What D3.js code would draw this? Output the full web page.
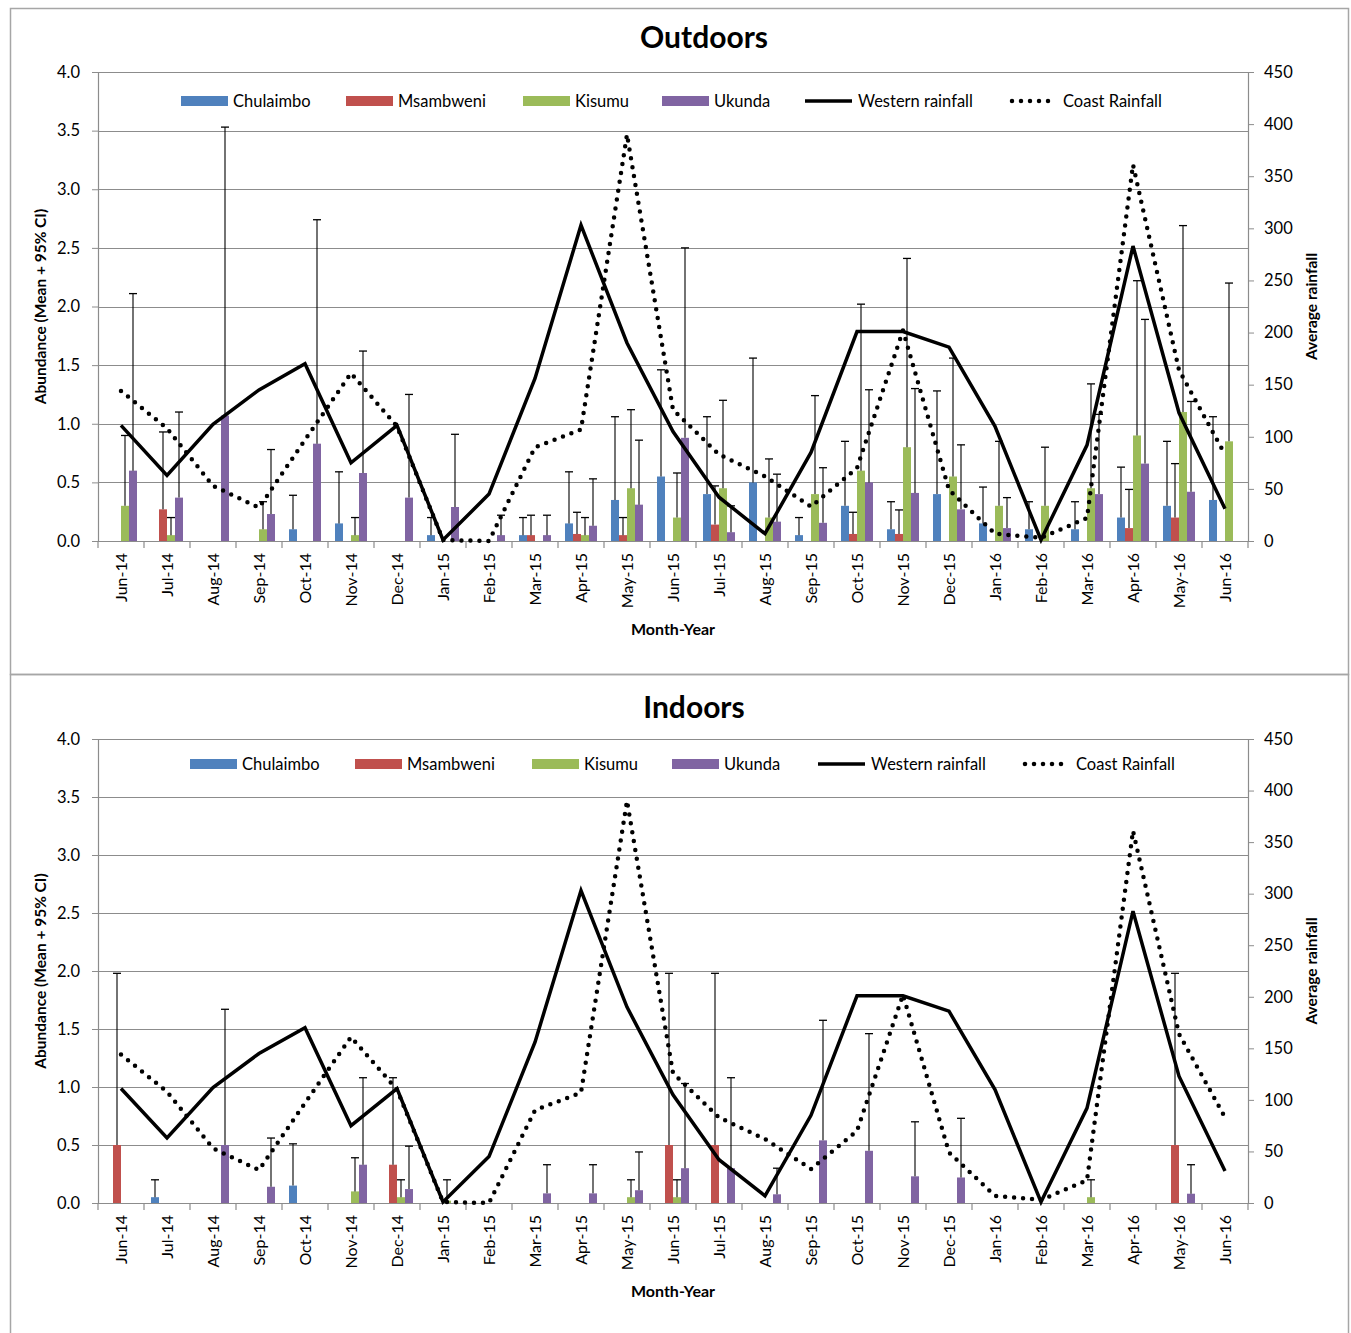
<!DOCTYPE html>
<html>
<head>
<meta charset="utf-8">
<script src="https://d3js.org/d3.v7.min.js"></script>
<style>
  body { margin: 0; background: #fff; }
  text { font-family: Lato, "Open Sans", sans-serif; fill: #000; }
</style>
</head>
<body>
<script>
var WIDTH = 1351,
    HEIGHT = 1333;

var months = ["Jun-14","Jul-14","Aug-14","Sep-14","Oct-14","Nov-14","Dec-14",
  "Jan-15","Feb-15","Mar-15","Apr-15","May-15","Jun-15","Jul-15","Aug-15","Sep-15",
  "Oct-15","Nov-15","Dec-15","Jan-16","Feb-16","Mar-16","Apr-16","May-16","Jun-16"];

var sites = ["Chulaimbo", "Msambweni", "Kisumu", "Ukunda"];
var siteColors = ["#4F81BD", "#C0504D", "#9BBB59", "#8064A2"];

// rainfall (right axis), same in both panels
var westernRain = [111,63,112,145,170,75,111,1,45,156,303,190,105,42,7,85,201,201,186,110,1,92,283,123,31];
var coastRain   = [144,108,53,32,97,161,110,1,0,90,107,390,126,83,62,33,70,202,49,7,3,22,361,164,83];

// Outdoors: mean and upper 95% CI, null = no bar
var outChulaimbo   = [null,null,null,null,0.10,0.15,null,0.05,null,0.05,0.15,0.35,0.55,0.40,0.50,0.05,0.30,0.10,0.40,0.15,0.10,0.10,0.20,0.30,0.35];
var outChulaimboCI = [null,null,null,null,0.39,0.59,null,0.20,null,0.20,0.59,1.06,1.46,1.06,1.56,0.20,0.85,0.335,1.28,0.46,0.335,0.335,0.63,0.85,1.06];
var outMsambweni   = [null,0.27,null,null,null,null,null,null,null,0.05,0.06,0.05,null,0.14,null,null,0.06,0.06,null,null,null,null,0.11,0.20,null];
var outMsambweniCI = [null,0.93,null,null,null,null,null,null,null,0.22,0.245,0.20,null,0.47,null,null,0.245,0.265,null,null,null,null,0.44,0.66,null];
var outKisumu      = [0.30,0.05,null,0.10,null,0.05,null,null,null,null,0.05,0.45,0.20,0.45,0.20,0.40,0.60,0.80,0.55,0.30,0.30,0.45,0.90,1.10,0.85];
var outKisumuCI    = [0.90,0.20,null,0.335,null,0.20,null,null,null,null,0.20,1.12,0.58,1.20,0.70,1.24,2.02,2.41,1.56,0.85,0.80,1.34,2.22,2.69,2.20];
var outUkunda      = [0.60,0.37,1.07,0.23,0.83,0.58,0.37,0.29,0.05,0.05,0.13,0.31,0.88,0.075,0.165,0.155,0.50,0.41,0.27,0.11,null,0.40,0.66,0.42,null];
var outUkundaCI    = [2.11,1.10,3.53,0.78,2.74,1.62,1.25,0.91,0.22,0.22,0.53,0.86,2.50,0.30,0.57,0.625,1.29,1.30,0.82,0.37,null,1.08,1.89,1.19,null];

// Indoors
var inChulaimbo    = [null,0.05,null,null,0.15,null,null,null,null,null,null,null,null,null,null,null,null,null,null,null,null,null,null,null,null];
var inChulaimboCI  = [null,0.20,null,null,0.51,null,null,null,null,null,null,null,null,null,null,null,null,null,null,null,null,null,null,null,null];
var inMsambweni    = [0.50,null,null,null,null,null,0.33,null,null,null,null,null,0.50,0.50,null,null,null,null,null,null,null,null,null,0.50,null];
var inMsambweniCI  = [1.98,null,null,null,null,null,1.08,null,null,null,null,null,1.98,1.98,null,null,null,null,null,null,null,null,null,1.98,null];
var inKisumu       = [null,null,null,null,null,0.10,0.05,0.02,null,null,null,0.05,0.05,null,null,null,null,null,null,null,null,0.05,null,null,null];
var inKisumuCI     = [null,null,null,null,null,0.39,0.20,0.20,null,null,null,0.20,0.20,null,null,null,null,null,null,null,null,0.20,null,null,null];
var inUkunda       = [null,null,0.50,0.14,null,0.33,0.12,null,null,0.083,0.083,0.11,0.30,0.30,0.075,0.54,0.45,0.23,0.22,null,null,null,null,0.08,null];
var inUkundaCI     = [null,null,1.67,0.56,null,1.08,0.49,null,null,0.33,0.33,0.44,1.03,1.08,0.30,1.575,1.46,0.70,0.73,null,null,null,null,0.33,null];

var leftTicks = [0,0.5,1,1.5,2,2.5,3,3.5,4];
var rightTicks = [0,50,100,150,200,250,300,350,400,450];

var svg = d3.select("body").append("svg")
    .attr("width", WIDTH)
    .attr("height", HEIGHT);

function drawPanel(p) {
  var g = svg.append("g");

  g.append("rect")
    .attr("x", 10.5).attr("y", p.boxTop + 0.5)
    .attr("width", 1338).attr("height", p.boxH)
    .style("fill", "none").style("stroke", "#a6a6a6").style("stroke-width", 1.5);

  var x = d3.scaleBand().domain(months).range([98, 1248]);
  var y = d3.scaleLinear().domain([0, 4]).range([p.bottom, p.top]);
  var yR = d3.scaleLinear().domain([0, 450]).range([p.bottom, p.top]);
  var bw = 8;

  // gridlines
  g.selectAll(".grid").data(leftTicks.slice(1)).enter().append("line")
    .attr("x1", 98).attr("x2", 1248)
    .attr("y1", function(d) { return Math.round(y(d)) + 0.5; })
    .attr("y2", function(d) { return Math.round(y(d)) + 0.5; })
    .style("stroke", "#8c8c8c").style("stroke-width", 1.2);

  // left axis
  var la = g.append("g").attr("transform", "translate(98,0)")
    .call(d3.axisLeft(y).tickValues(leftTicks).tickSize(6).tickPadding(12)
      .tickFormat(d3.format(".1f")));
  la.select(".domain").style("stroke", "#8c8c8c").style("stroke-width", 1.2);
  la.selectAll(".tick line").style("stroke", "#8c8c8c");
  la.selectAll("text").style("font-size", "16.5px").style("font-family", "Lato");

  // right axis
  var ra = g.append("g").attr("transform", "translate(1248,0)")
    .call(d3.axisRight(yR).tickValues(rightTicks).tickSize(6).tickPadding(10));
  ra.select(".domain").style("stroke", "#8c8c8c").style("stroke-width", 1.2);
  ra.selectAll(".tick line").style("stroke", "#8c8c8c");
  ra.selectAll("text").style("font-size", "16.5px").style("font-family", "Lato");

  // x axis: ticks between categories
  g.append("line").attr("x1", 98).attr("x2", 1248)
    .attr("y1", p.bottom + 0.5).attr("y2", p.bottom + 0.5)
    .style("stroke", "#8c8c8c").style("stroke-width", 1.2);
  g.selectAll(".xt").data(d3.range(months.length + 1)).enter().append("line")
    .attr("x1", function(i) { return 98 + i * x.step(); })
    .attr("x2", function(i) { return 98 + i * x.step(); })
    .attr("y1", p.bottom).attr("y2", p.bottom + 7)
    .style("stroke", "#8c8c8c").style("stroke-width", 1.2);
  g.selectAll(".xl").data(months).enter().append("text")
    .attr("transform", function(d) {
      return "translate(" + (x(d) + x.bandwidth() / 2 + 6) + "," + (p.bottom + 12) + ") rotate(-90)";
    })
    .attr("text-anchor", "end")
    .style("font-size", "16px")
    .text(function(d) { return d; });

  // bars and error bars
  p.series.forEach(function(s, si) {
    var pts = months.map(function(m, i) {
      return { m: m, v: s.mean[i], ci: s.ci[i] };
    }).filter(function(d) { return d.v != null; });
    var bx = function(d) { return x(d.m) + x.bandwidth() / 2 - 16 + si * bw; };

    g.selectAll(".bar" + si).data(pts).enter().append("rect")
      .attr("x", bx)
      .attr("y", function(d) { return y(d.v); })
      .attr("width", bw)
      .attr("height", function(d) { return p.bottom - y(d.v); })
      .style("fill", siteColors[si]);

    var eb = g.selectAll(".err" + si).data(pts).enter().append("g");
    eb.append("line")
      .attr("x1", function(d) { return bx(d) + bw / 2; })
      .attr("x2", function(d) { return bx(d) + bw / 2; })
      .attr("y1", function(d) { return y(d.v); })
      .attr("y2", function(d) { return y(d.ci); })
      .style("stroke", "#000").style("stroke-width", 1.1);
    eb.append("line")
      .attr("x1", function(d) { return bx(d) + bw / 2 - 4; })
      .attr("x2", function(d) { return bx(d) + bw / 2 + 4; })
      .attr("y1", function(d) { return y(d.ci); })
      .attr("y2", function(d) { return y(d.ci); })
      .style("stroke", "#000").style("stroke-width", 1.3);
  });

  // rainfall lines
  var line = d3.line()
    .x(function(d, i) { return x(months[i]) + x.bandwidth() / 2; })
    .y(function(d) { return yR(d); });

  g.append("path").datum(westernRain).attr("d", line)
    .style("fill", "none").style("stroke", "#000").style("stroke-width", 3.5)
    .style("stroke-linejoin", "miter");
  g.append("path").datum(coastRain).attr("d", line)
    .style("fill", "none").style("stroke", "#000").style("stroke-width", 4.5)
    .style("stroke-linecap", "round").style("stroke-dasharray", "0,9");

  // title
  g.append("text").attr("x", p.titleX).attr("y", p.titleY)
    .attr("text-anchor", "middle")
    .style("font-size", "30px").style("font-weight", "bold")
    .text(p.title);

  // axis titles
  g.append("text")
    .attr("transform", "translate(46," + ((p.top + p.bottom) / 2) + ") rotate(-90)")
    .attr("text-anchor", "middle")
    .style("font-size", "15.5px").style("font-weight", "bold")
    .text("Abundance (Mean + 95% CI)");
  g.append("text")
    .attr("transform", "translate(1317," + ((p.top + p.bottom) / 2) + ") rotate(-90)")
    .attr("text-anchor", "middle")
    .style("font-size", "15.5px").style("font-weight", "bold")
    .text("Average rainfall");
  g.append("text").attr("x", 673).attr("y", p.bottom + 94)
    .attr("text-anchor", "middle")
    .style("font-size", "16px").style("font-weight", "bold")
    .text("Month-Year");

  // legend
  var lg = g.append("g").attr("transform", "translate(0," + p.legendY + ")");
  sites.forEach(function(s, i) {
    lg.append("rect").attr("x", p.legendX[i]).attr("y", -5)
      .attr("width", 47).attr("height", 10).style("fill", siteColors[i]);
    lg.append("text").attr("x", p.legendX[i] + 52).attr("y", 6)
      .style("font-size", "16.5px").text(s);
  });
  lg.append("line").attr("x1", p.legendX[4]).attr("x2", p.legendX[4] + 47)
    .attr("y1", 0).attr("y2", 0)
    .style("stroke", "#000").style("stroke-width", 3.5);
  lg.append("text").attr("x", p.legendX[4] + 53).attr("y", 6)
    .style("font-size", "16.5px").text("Western rainfall");
  lg.append("line").attr("x1", p.legendX[5] + 2).attr("x2", p.legendX[5] + 47)
    .attr("y1", 0).attr("y2", 0)
    .style("stroke", "#000").style("stroke-width", 4.5)
    .style("stroke-linecap", "round").style("stroke-dasharray", "0,9");
  lg.append("text").attr("x", p.legendX[5] + 53).attr("y", 6)
    .style("font-size", "16.5px").text("Coast Rainfall");
}

drawPanel({
  title: "Outdoors", titleX: 704, titleY: 48,
  boxTop: 8, boxH: 666,
  top: 72, bottom: 541,
  legendY: 101, legendX: [181, 346, 523, 662, 805, 1010],
  series: [
    { mean: outChulaimbo, ci: outChulaimboCI },
    { mean: outMsambweni, ci: outMsambweniCI },
    { mean: outKisumu, ci: outKisumuCI },
    { mean: outUkunda, ci: outUkundaCI }
  ]
});

drawPanel({
  title: "Indoors", titleX: 694, titleY: 718,
  boxTop: 674, boxH: 670,
  top: 739, bottom: 1203,
  legendY: 764, legendX: [190, 355, 532, 672, 818, 1023],
  series: [
    { mean: inChulaimbo, ci: inChulaimboCI },
    { mean: inMsambweni, ci: inMsambweniCI },
    { mean: inKisumu, ci: inKisumuCI },
    { mean: inUkunda, ci: inUkundaCI }
  ]
});
</script>
</body>
</html>
